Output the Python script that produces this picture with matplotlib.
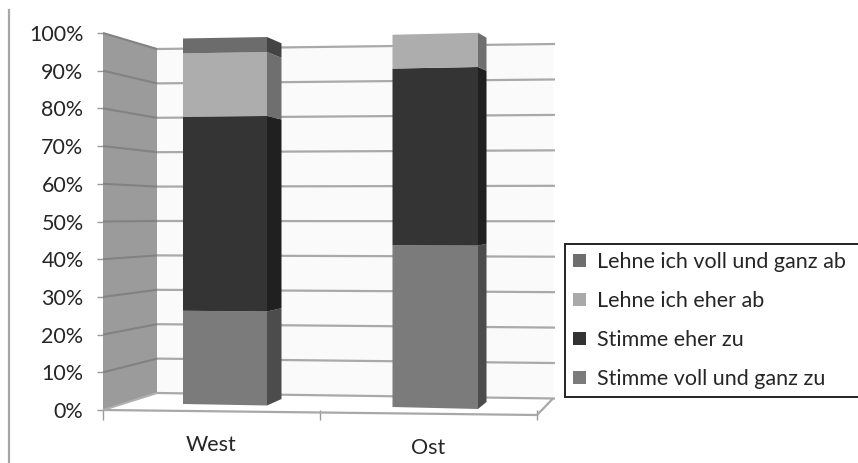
import matplotlib
matplotlib.use("Agg")
import matplotlib.pyplot as plt
from matplotlib.patches import Patch
from matplotlib.lines import Line2D

# ---- data -------------------------------------------------------------
categories = ["West", "Ost"]
series = ["Stimme voll und ganz zu", "Stimme eher zu", "Lehne ich eher ab", "Lehne ich voll und ganz ab"]
west = [25, 52, 17, 4]
ost = [43, 47, 9, 0]
y_ticks = list(range(0, 101, 10))
y_labels = [f"{v}%" for v in y_ticks]

# ---- style ------------------------------------------------------------
front_cols = ["#7b7b7b", "#343434", "#adadad", "#6c6c6c"]
side_cols = ["#4c4c4c", "#202020", "#6f6f6f", "#444444"]
legend_cols = ["#7b7b7b", "#333333", "#a9a9a9", "#6e6e6e"]
FONT = "Lato"
TXT = "#262626"
plt.rcParams["font.family"] = [FONT, "DejaVu Sans"]

W, H = 858, 463
fig = plt.figure(figsize=(W / 100, H / 100), dpi=100, facecolor="white")
L, R, T, B = 103, 537, 33, 410
ax = fig.add_axes([L / W, 1 - B / H, (R - L) / W, (B - T) / H])
ax.set_xlim(0, 2)
ax.set_ylim(0, 100)
ax.patch.set_visible(False)
for s in ax.spines.values():
    s.set_visible(False)


def P(px, py):
    """picture position (y downward) -> axes data coordinates"""
    return ((px - L) / (R - L) * 2, (B - py) / (B - T) * 100)


def poly(points, **kw):
    pts = [P(*p) for p in points]
    ax.fill([p[0] for p in pts], [p[1] for p in pts], clip_on=False, **kw)


def seg(a, b, color, lw=1.5, z=2):
    pa, pb = P(*a), P(*b)
    ax.plot([pa[0], pb[0]], [pa[1], pb[1]], color=color, lw=lw, clip_on=False,
            zorder=z, solid_capstyle="butt")


# ---- walls ------------------------------------------------------------
BX0, BX1 = 157, 553
back_0 = (393, 398.5)
back_100 = (49, 44)


def back_y(v, t):
    y0 = back_0[0] + (back_0[1] - back_0[0]) * t
    y1 = back_100[0] + (back_100[1] - back_100[0]) * t
    return y0 + (y1 - y0) * v / 100


def side_y(v, t):
    y0 = B + (back_0[0] - B) * t
    y1 = T + (back_100[0] - T) * t
    return y0 + (y1 - y0) * v / 100


poly([(BX0, back_y(0, 0)), (BX1, back_y(0, 1)), (BX1, back_y(100, 1)), (BX0, back_y(100, 0))],
     facecolor="#fafafa", edgecolor="none", zorder=1)
poly([(L, side_y(0, 0)), (BX0, side_y(0, 1)), (BX0, side_y(100, 1)), (L, side_y(100, 0))],
     facecolor="#9b9b9b", edgecolor="none", zorder=1)

for v in y_ticks:
    seg((BX0, back_y(v, 0)), (BX1 + 2, back_y(v, 1)), "#a9a9a9", 1.6)
    seg((L, side_y(v, 0)), (BX0, side_y(v, 1)), "#828282" if v else "#b0b0b0", 1.5)

# floor outline
seg((L, B), (R, 415), "#a8a8a8", 1.6)
seg((R, 415), (BX1, back_y(0, 1)), "#a8a8a8", 1.6)

# ---- bars -------------------------------------------------------------
# picture geometry of each bar: x edges, baseline and px per percent
bars = [
    dict(vals=west, x0=183, x1=267, x2=281.5, base0=404, base1=405.5, s0=3.73, s1=3.76,
         baseb=399, sb=3.63),
    dict(vals=ost, x0=392.5, x1=478, x2=486.5, base0=407, base1=409, s0=3.76, s1=3.80,
         baseb=402, sb=3.68),
]
for b in bars:
    cum = 0
    for val, fc, sc in zip(b["vals"], front_cols, side_cols):
        if val <= 0:
            continue
        lo, hi = cum, cum + val
        cum = hi
        fl = lambda v: b["base0"] - b["s0"] * v
        fr = lambda v: b["base1"] - b["s1"] * v
        bk = lambda v: b["baseb"] - b["sb"] * v
        poly([(b["x0"], fl(lo)), (b["x1"], fr(lo)), (b["x1"], fr(hi)), (b["x0"], fl(hi))],
             facecolor=fc, edgecolor="none", zorder=4)
        poly([(b["x1"], fr(lo)), (b["x2"], bk(lo)), (b["x2"], bk(hi)), (b["x1"], fr(hi))],
             facecolor=sc, edgecolor="none", zorder=4)

# ---- axes ticks and labels --------------------------------------------
ax.set_yticks(y_ticks)
ax.set_yticklabels(y_labels, fontsize=15.5, color=TXT)
ax.tick_params(axis="y", length=4.5, width=1.0, color="#9a9a9a", pad=9.5)
ax.set_xticks([0.5, 1.5])
ax.set_xticklabels(categories, fontsize=15.5, color=TXT)
ax.set_xticks([0, 1, 2], minor=True)
ax.tick_params(axis="x", which="minor", length=7, width=1.0, color="#9a9a9a")
ax.tick_params(axis="x", which="major", length=0, pad=18)
maj = ax.xaxis.get_major_ticks()
maj[1].set_pad(20)

# outer vertical rule at left
fig.add_artist(Line2D([8.5 / W, 8.5 / W], [0, 1 - 10 / H], color="#a6a6a6", lw=1.6))

# ---- legend -----------------------------------------------------------
handles = [Patch(facecolor=c, edgecolor="none") for c in legend_cols[::-1]]
leg = fig.legend(
    handles, series[::-1],
    loc="upper left",
    bbox_to_anchor=(565 / W, 1 - 397 / H, 300 / W, 153 / H),
    mode="expand", borderaxespad=0, ncol=1,
    fontsize=15.5, labelcolor=TXT, fancybox=False, framealpha=1,
    edgecolor="#222222", handlelength=0.6, handleheight=0.6, handletextpad=0.5,
    borderpad=0.38, labelspacing=0.88,
)
leg.get_frame().set_linewidth(1.4)

fig.savefig("out.png", dpi=100)
